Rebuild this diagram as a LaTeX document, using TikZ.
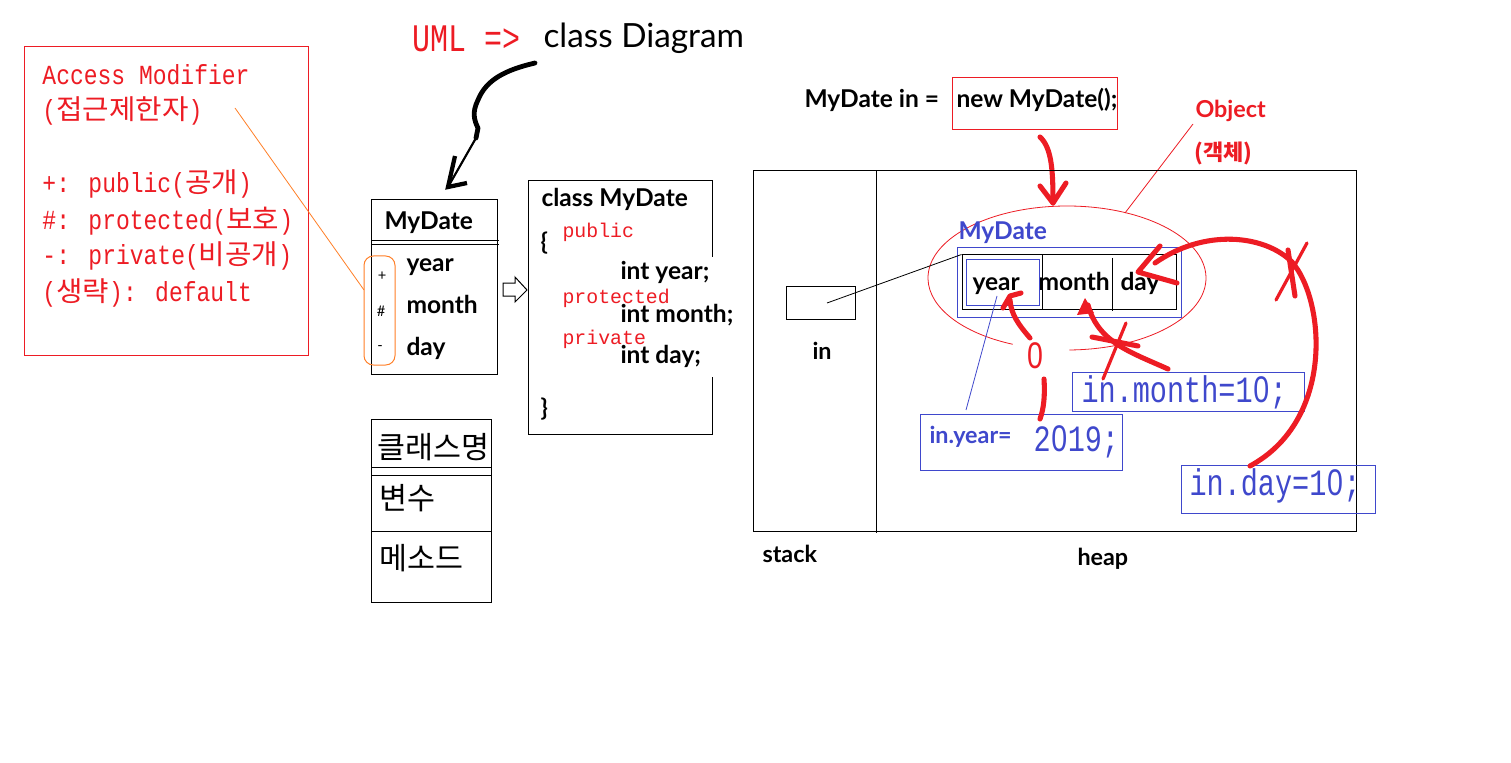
\documentclass[tikz,border=0pt]{standalone}
\usepackage{graphicx}
\usepackage{fontspec}
\setmainfont{Lato}
\newfontfamily\kr{Noto Sans CJK KR}
\newfontfamily\mono{Liberation Mono}
\newfontfamily\lsans{Liberation Sans}
\usetikzlibrary{fit,calc}
\definecolor{pred}{RGB}{237,28,36}
\definecolor{pblue}{RGB}{63,72,204}
\definecolor{porange}{RGB}{255,127,39}
\newcommand\K[1]{\scalebox{1.25}[1]{\kr #1}}
\newcommand\gul[1]{\scalebox{1}[1.2]{#1}}
\newcommand\gulb[1]{\scalebox{1}[1.3]{#1}}
\newcommand\Z{\makebox[0.6em]{\lsans 0}}
\tikzset{
  box/.style={draw, inner sep=0pt},
  txt/.style={inner sep=0pt, anchor=base west},
  bb/.style={txt, font=\fontsize{18.4pt}{20pt}\selectfont\bfseries},
  bs/.style={txt, font=\fontsize{17.5pt}{20pt}\selectfont\bfseries},
  am/.style={txt, text=pred, font=\mono\fontsize{17.25pt}{20pt}\selectfont},
  cred/.style={txt, text=pred, font=\mono\fontsize{14.9pt}{18pt}\selectfont},
  gblue/.style={txt, text=pblue, font=\mono\fontsize{21.4pt}{24pt}\selectfont},
  krt/.style={txt, font=\kr\fontsize{22.8pt}{24pt}\selectfont},
  ink/.style={pred, line width=3.8pt, line cap=round, line join=round},
  inkthin/.style={pred, line width=2.4pt, line cap=round, line join=round},
}
\begin{document}
\begin{tikzpicture}[x=0.75pt,y=-0.75pt,line width=0.75pt]
\useasboundingbox[fill=white] (0,0) rectangle (1511,763);

% ---------- Access modifier box ----------
\node[box, draw=pred, fit={(24,47)(308,355)}] (ambox) {};
\node[am] (am1) at (42,85) {\gul{Access Modifier}};
\node[am] (am2) at (42,120) {\gul{(\K{접근제한자})}};
\node[am] (am3) at (42,193) {\gul{+: public(\K{공개})}};
\node[am] (am4) at (42,229) {\gul{\#: protected(\K{보호})}};
\node[am] (am5) at (42,265) {\gul{-: private(\K{비공개})}};
\node[am] (am6) at (42,301) {\gul{(\K{생략}): default}};

% ---------- title ----------
\node[txt, text=pred, font=\mono\fontsize{22.5pt}{26pt}\selectfont] (uml) at (412,52) {\gulb{UML =>}};
\node[txt, font=\fontsize{25pt}{28pt}\selectfont] (cd) at (543,48) {class Diagram};

% squiggle arrow
\coordinate (sqs) at (535,63);
\coordinate (sqt) at (448,187);
\draw[line width=3.6pt, line cap=round, line join=round]
  (sqs) .. controls (505,70) and (486,80) .. (478,100)
  .. controls (472,112) and (474,120) .. (478,128) -- (476,138);
\draw[line width=1.6pt] (476,138) -- (sqt);
\draw[line width=3.2pt, line join=miter] (455,156) -- (sqt) -- (467,183);

% ---------- UML class box ----------
\node[box, fit={(371,200)(497,374)}] (cls) {};
\draw (371,241) -- (499,241);
\draw (371,245) -- (499,245);
\node[bb] (clsname) at (384,229) {MyDate};
\node[font=\fontsize{11pt}{12pt}\selectfont, inner sep=0pt] (mplus) at (382,276) {+};
\node[font=\fontsize{11pt}{12pt}\selectfont, inner sep=0pt] (mhash) at (381,311) {\#};
\node[font=\fontsize{11pt}{12pt}\selectfont, inner sep=0pt] (mminus) at (380,348) {-};
\node[bb] (ayear) at (406,272) {year};
\node[bb] (amonth) at (406,313) {month};
\node[bb] (aday) at (406,355) {day};

% modifiers highlight
\node[draw=porange, rounded corners=7pt, inner sep=0pt, fit={(364,256)(395,365)}] (mods) {};
\coordinate (amfrom) at (235,108);
\coordinate (modsin) at (364,290);
\draw[porange, line width=0.6pt] (amfrom) -- (modsin);

% hollow block arrow
\draw[line width=0.75pt, line join=miter] (503,283) -- (515,283) -- (515,277) -- (527,290) -- (515,302) -- (515,296) -- (503,296) -- cycle;

% ---------- code box ----------
\node[inner sep=0pt, fit={(528,181)(712,434)}] (code) {};
\draw (712,257) -- (712,181) -- (528,181) -- (528,434) -- (712,434) -- (712,377);
\node[bb] (c1) at (541,207) {class MyDate};
\node[txt, font=\fontsize{18pt}{20pt}\selectfont\bfseries] (c2) at (540,251) {\{};
\node[cred] (c3) at (562,238) {public};
\node[bb] (c4) at (620,279) {int year;};
\node[cred] (c5) at (562,303) {protected};
\node[bb] (c6) at (620,322) {int month;};
\node[cred] (c7) at (562,344) {private};
\node[bb] (c8) at (620,363) {int day;};
\node[txt, font=\fontsize{18pt}{20pt}\selectfont\bfseries] (c9) at (540,416) {\}};

% ---------- Korean class box ----------
\node[box, fit={(371,419)(491,602)}] (kbox) {};
\draw (371,467) -- (491,467);
\draw (371,475) -- (491,475);
\draw (371,531) -- (491,531);
\node[krt] (k1) at (377,458) {클래스명};
\node[krt] (k2) at (379,509) {변수};
\node[krt] (k3) at (379,569) {메소드};

% ---------- memory ----------
\node[bb] (decl) at (804,108) {MyDate in =};
\node[box, draw=pred, fit={(952,78)(1117,130)}] (newbox) {};
\node[bb] (newtxt) at (956,108) {new MyDate();};

\coordinate (nbs) at (1040,137);
\coordinate (nbt) at (1053,203);
\draw[ink] (nbs) .. controls (1052,148) and (1053,172) .. (nbt);
\draw[ink] (1040,186) -- (nbt) -- (1066,183);

\node[txt, text=pred, font=\fontsize{17.5pt}{18pt}\selectfont\bfseries] (objlbl) at (1195,118) {Object};
\node[txt, text=pred, font=\kr\fontsize{16.5pt}{18pt}\selectfont\bfseries] (objkr) at (1194,161) {(객체)};
\coordinate (objline) at (1125,213);
\draw[pred, line width=0.6pt] (1193,124) -- (objline);

\node[box, fit={(753,171)(1356,531)}] (mem) {};
\draw (876,171) -- (876,533);
\node[bs] (stk) at (762,562) {stack};
\node[bs] (hp) at (1077,565) {heap};

\node[box, fit={(786,286)(855,319)}] (inref) {};
\node[bs] (inlbl) at (812,359) {in};

% object ellipse (open at the bottom)
\coordinate (ec) at (1067,278);
\draw[pred, line width=0.6pt] ($(ec)+(89:139 and 72)$) arc[start angle=89, end angle=-247, x radius=139, y radius=72];

\node[box, draw=pblue, fit={(957,248)(1181,317)}] (objouter) {};
\node[box, fit={(962,255)(1176,309)}] (obj) {};
\draw (1042,255) -- (1042,309);
\draw (1112,258) -- (1112,311);
\node[box, draw=pblue, fit={(966,260)(1039,305)}] (yearcell) {};
\node[bb] (oyear) at (972,291) {year};
\node[bb] (omonth) at (1038,291) {month};
\node[bb] (oday) at (1120,291) {day};
\node[bb, text=pblue] (otype) at (958,240) {MyDate};

\coordinate (refpt) at (827,303);
\draw[line width=0.6pt] (refpt) -- (obj.north west);

% assignments
\coordinate (yl1) at (997,296);
\coordinate (yl2) at (966,410);
\draw[pblue, line width=0.6pt] (yl1) -- (yl2);
\node[txt, text=pred, font=\mono\fontsize{21.4pt}{24pt}\selectfont] (zero) at (1026,368) {\gulb{\Z}};

\node[box, draw=pblue, fit={(920,414)(1122,470)}] (inyear) {};
\node[txt, text=pblue, font=\fontsize{17.5pt}{18pt}\selectfont\bfseries] (inyeartxt) at (929,443) {in.year=};
\node[gblue] (y2019) at (1033,451) {\gulb{2\Z19;}};

\node[box, draw=pblue, fit={(1072,372)(1304,411)}] (inmonth) {};
\node[gblue] (inmonthtxt) at (1081,402) {\gulb{in.month=1\Z;}};

\node[box, draw=pblue, fit={(1181,465)(1375,513)}] (inday) {};
\node[gblue] (indaytxt) at (1189,495) {\gulb{in.day=1\Z;}};

% red hand strokes: year
\draw[ink] (1030,338) .. controls (1018,324) and (1011,314) .. (1010,300);
\draw[ink] (1003,308) -- (1010,296) -- (1021,293);
\draw[ink] (1044,379) .. controls (1045,395) and (1044,408) .. (1040,419);
% month
\draw[ink] (1168,369) .. controls (1130,352) and (1098,342) .. (1088,305);
\fill[pred] (1077,315) -- (1085,298) -- (1094,313) -- cycle;
\draw[inkthin] (1126,323) -- (1103,379);
\draw[ink] (1092,337) -- (1138,346);
% day
\draw[ink] (1250,466) .. controls (1335,420) and (1325,300) .. (1292,262)
  .. controls (1265,235) and (1205,228) .. (1155,263);
\draw[ink] (1160,246) -- (1138,272) -- (1177,283);
\draw[inkthin] (1307,243) -- (1276,300);
\draw[ink] (1288,250) -- (1295,296);
\end{tikzpicture}
\end{document}
